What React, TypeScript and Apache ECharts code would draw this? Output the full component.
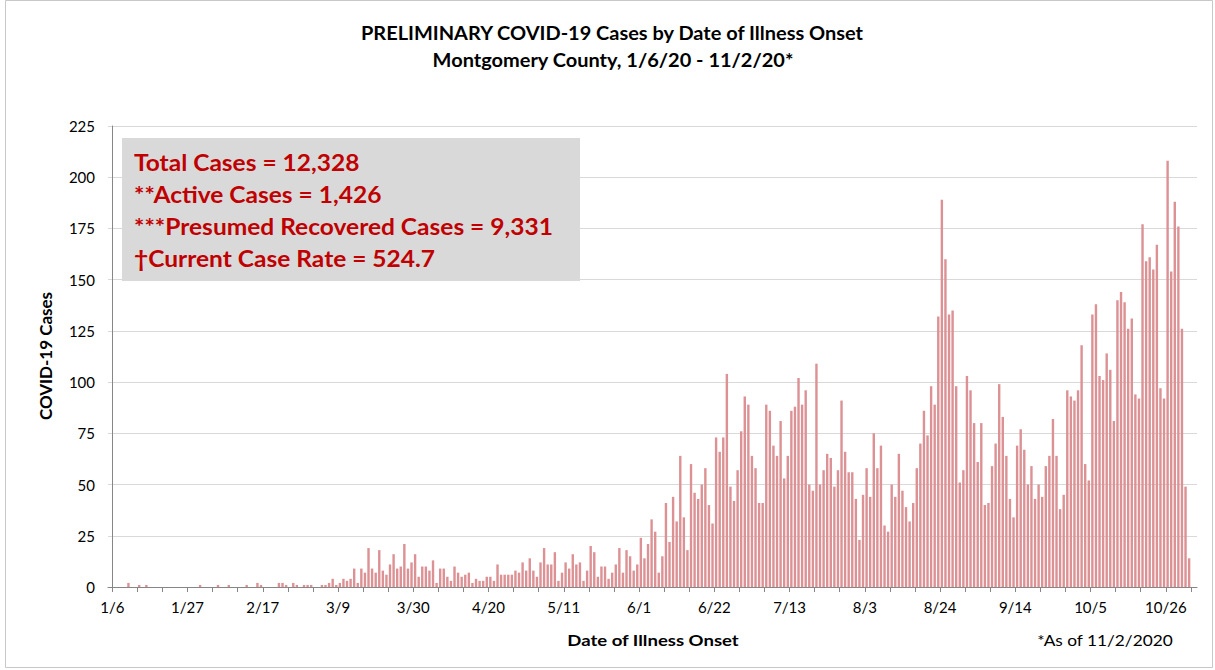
import React, { useEffect, useRef } from "react";
import * as echarts from "echarts";

// Daily cases by date of illness onset, 1/6/2020 .. 11/2/2020 (302 days)
const cases: number[] = [
  0, 0, 0, 0, 0, 2, 0,
  0, 1, 0, 1, 0, 0, 0,
  0, 0, 0, 0, 0, 0, 0,
  0, 0, 0, 0, 1, 0, 0,
  0, 0, 1, 0, 0, 1, 0,
  0, 0, 0, 1, 0, 0, 2,
  1, 0, 0, 0, 0, 2, 2,
  1, 0, 2, 1, 0, 1, 1,
  1, 0, 0, 1, 1, 2, 4,
  1, 2, 4, 3, 4, 9, 2,
  9, 7, 19, 9, 7, 18, 8,
  6, 11, 16, 9, 10, 21, 9,
  12, 16, 5, 10, 10, 8, 13,
  2, 9, 9, 5, 3, 10, 7,
  5, 6, 7, 2, 4, 3, 3,
  5, 5, 3, 11, 6, 6, 6,
  6, 8, 7, 12, 8, 14, 8,
  5, 12, 19, 11, 11, 17, 3,
  7, 12, 9, 16, 11, 12, 3,
  8, 20, 17, 5, 10, 10, 4,
  7, 11, 19, 7, 18, 15, 8,
  11, 24, 14, 21, 33, 27, 7,
  15, 41, 22, 44, 32, 64, 34,
  18, 60, 46, 43, 50, 58, 40,
  31, 73, 66, 73, 104, 49, 42,
  57, 76, 93, 89, 64, 58, 41,
  41, 89, 86, 69, 64, 81, 53,
  64, 86, 88, 102, 89, 96, 50,
  47, 109, 50, 57, 65, 63, 49,
  57, 91, 66, 56, 56, 43, 23,
  45, 58, 44, 75, 58, 69, 30,
  27, 50, 44, 65, 47, 39, 32,
  41, 58, 70, 86, 74, 98, 89,
  132, 189, 160, 133, 135, 98, 51,
  57, 103, 96, 80, 61, 80, 40,
  41, 59, 70, 99, 83, 64, 43,
  34, 69, 77, 67, 50, 59, 43,
  50, 44, 59, 64, 82, 64, 38,
  45, 96, 93, 91, 96, 118, 60,
  52, 133, 138, 103, 101, 114, 106,
  81, 140, 144, 139, 126, 131, 94,
  92, 177, 159, 161, 155, 167, 97,
  92, 208, 154, 188, 176, 126, 49,
  14,
];

// x-axis labels (every third week starting 1/6)
const tickLabels: string[] = [
  "1/6", "1/27", "2/17", "3/9", "3/30", "4/20", "5/11", "6/1",
  "6/22", "7/13", "8/3", "8/24", "9/14", "10/5", "10/26",
];
const labelStepDays = 21;
const tickStepDays = 7;

const yTicks = { min: 0, max: 225, interval: 25 };

const titleLines: string[] = [
  "PRELIMINARY COVID-19 Cases by Date of Illness Onset",
  "Montgomery County, 1/6/20 - 11/2/20*",
];
const summaryLines: string[] = [
  "Total Cases = 12,328",
  "**Active Cases = 1,426",
  "***Presumed Recovered Cases = 9,331",
  "\u2020Current Case Rate = 524.7",
];
const yAxisTitle = "COVID-19 Cases";
const xAxisTitle = "Date of Illness Onset";
const footnote = "*As of 11/2/2020";

const FONT = "Lato, 'Open Sans', sans-serif";

export default function App() {
  const ref = useRef<HTMLDivElement>(null);

  useEffect(() => {
    if (!ref.current) return;
    const chart = echarts.init(ref.current, undefined, { renderer: "svg" });

    const labelValues = tickLabels.map((_, k) => k * labelStepDays);
    const tickValues: number[] = [];
    for (let d = 0; d < cases.length; d += tickStepDays) tickValues.push(d);

    const txt = (
      text: string,
      x: number,
      y: number,
      size: number,
      opts: Record<string, any> = {}
    ) => ({
      type: "text",
      x,
      y,
      z: opts.z ?? 5,
      scaleX: opts.scaleX ?? 1,
      scaleY: opts.scaleY ?? 1,
      rotation: opts.rotation ?? 0,
      style: {
        text,
        fontFamily: FONT,
        fontWeight: opts.weight ?? "bold",
        fontSize: size,
        fill: opts.fill ?? "#000",
        align: opts.align ?? "center",
        verticalAlign: "middle",
      },
    });

    chart.setOption({
      animation: false,
      backgroundColor: "#ffffff",
      grid: { left: 108, right: 18, top: 126, bottom: 83, containLabel: false },
      xAxis: {
        type: "value",
        min: -1.2,
        max: 302.7,
        axisLine: { show: true, lineStyle: { color: "#868686", width: 1 } },
        axisTick: {
          show: true,
          customValues: tickValues,
          length: 5,
          lineStyle: { color: "#868686" },
        },
        axisLabel: {
          customValues: labelValues,
          formatter: (v: number) => tickLabels[Math.round(v / labelStepDays)] ?? "",
          color: "#000",
          fontFamily: FONT,
          fontSize: 15,
          margin: 12,
        },
        splitLine: { show: false },
      },
      yAxis: {
        type: "value",
        min: yTicks.min,
        max: yTicks.max,
        interval: yTicks.interval,
        axisLine: { show: true, lineStyle: { color: "#868686" } },
        axisTick: { show: false },
        axisLabel: { color: "#000", fontFamily: FONT, fontSize: 15, margin: 13 },
        splitLine: { show: true, lineStyle: { color: "#d9d9d9", width: 1 } },
      },
      series: [
        {
          type: "bar",
          data: cases.map((v, j) => [j - 0.5, v]),
          barWidth: 2.4,
          itemStyle: { color: "#dc9194" },
          silent: true,
        },
      ],
      graphic: [
        {
          type: "rect",
          silent: true,
          z: -10,
          shape: { x: 5.5, y: 0.5, width: 1207, height: 667 },
          style: { fill: "none", stroke: "#c8c8c8", lineWidth: 1 },
        },
        txt(titleLines[0], 612, 33, 18, { scaleX: 1.11 }),
        txt(titleLines[1], 613, 60, 18, { scaleX: 1.11 }),
        {
          type: "rect",
          z: 10,
          shape: { x: 122, y: 138, width: 458, height: 143 },
          style: { fill: "#d9d9d9" },
        },
        ...summaryLines.map((t, k) =>
          txt(t, 134, 163 + k * 32, 22, {
            z: 11,
            scaleX: 1.115,
            align: "left",
            fill: "#c00000",
          })
        ),
        txt(yAxisTitle, 45, 356, 17, { rotation: Math.PI / 2 }),
        txt(xAxisTitle, 653, 640, 16, { scaleX: 1.16 }),
        txt(footnote, 1105, 640, 16, { weight: "normal", scaleX: 1.08 }),
      ],
    });

    return () => chart.dispose();
  }, []);

  return (
    <div
      ref={ref}
      style={{ position: "fixed", left: 0, top: 0, width: 1215, height: 670 }}
    />
  );
}
